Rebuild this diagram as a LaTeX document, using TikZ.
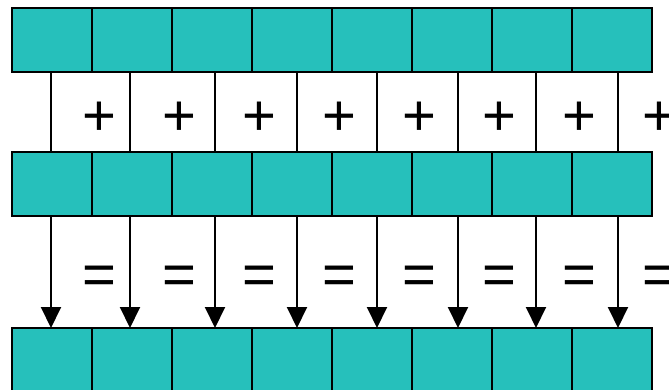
\documentclass[tikz,border=0pt]{standalone}
\usepackage{fontspec}
\setmainfont{Liberation Sans}
\usepackage{xcolor}
\usetikzlibrary{positioning,arrows.meta}
\definecolor{cellteal}{RGB}{38,192,187}

\begin{document}
\begin{tikzpicture}[x=1pt,y=-1pt,
  cell/.style={draw,line width=2pt,fill=cellteal,minimum width=80pt,minimum height=64pt,inner sep=0pt,outer sep=0pt},
  opsign/.style={font=\fontsize{58}{58}\selectfont,inner sep=0pt},
  link/.style={line width=2pt},
  every path/.style={line cap=rect}]
  \useasboundingbox (0,0) rectangle (669,390);
  % three rows of cells
  \foreach \i in {1,...,8} {
    \node[cell] (t\i) at (80*\i-28,40) {};
    \node[cell] (m\i) at (80*\i-28,184) {};
    \node[cell] (b\i) at (80*\i-28,360) {};
  }
  % lines between the rows and the signs
  \foreach \x [count=\i] in {51,130,215,297,377,458,536,618} {
    \coordinate (p\i) at (\x,72);
    \coordinate (q\i) at (\x,152);
    \coordinate (r\i) at (\x,216);
    \coordinate (s\i) at (\x,328);
    \draw[link] (p\i) -- (q\i);
    \draw[link,-{Triangle[width=20pt,length=21pt]}] (r\i) -- (s\i);
    \node[opsign] (plus\i) at (80*\i+19.5,119) {+};
    \node[opsign] (eq\i) at (80*\i+19.5,280) {=};
  }
\end{tikzpicture}
\end{document}
